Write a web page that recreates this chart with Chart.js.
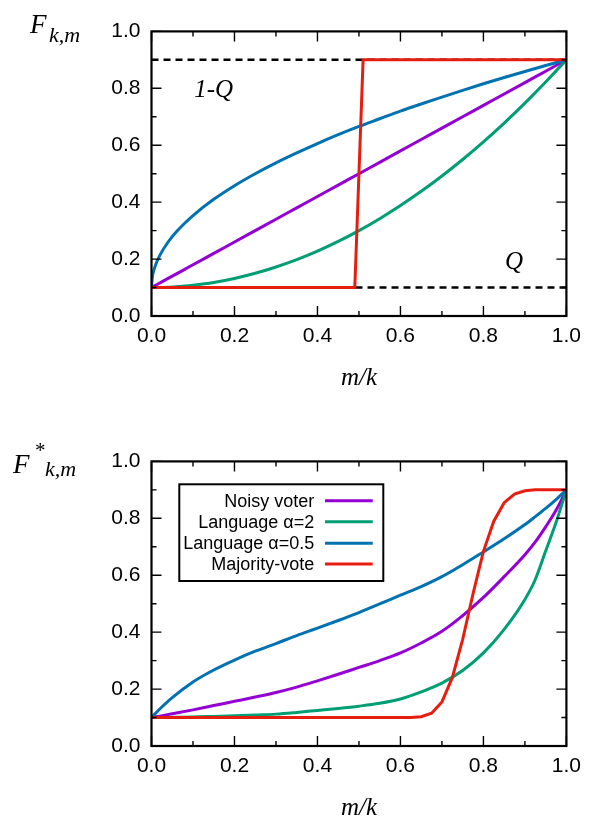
<!DOCTYPE html>
<html>
<head>
<meta charset="utf-8">
<script src="https://cdn.jsdelivr.net/npm/chart.js@4.4.0/dist/chart.umd.min.js"></script>
<style>
  body { margin: 0; background: #fff; }
  #wrap { position: relative; width: 589px; height: 819px; }
  canvas { position: absolute; left: 0; }
</style>
</head>
<body>
<div id="wrap">
  <canvas id="top" width="589" height="410" style="top:0"></canvas>
  <canvas id="bottom" width="589" height="389" style="top:430px"></canvas>
</div>
<script>
// ---- top panel: F_{k,m} ----
const topX      = [0, 0.002, 0.005, 0.01, 0.02, 0.04, 0.06, 0.08, 0.1, 0.15, 0.2, 0.25, 0.3, 0.35, 0.4, 0.45, 0.5, 0.55, 0.6, 0.65, 0.7, 0.75, 0.8, 0.85, 0.9, 0.95, 1];
const topNoisy  = [0.1, 0.102, 0.104, 0.108, 0.116, 0.132, 0.148, 0.164, 0.18, 0.22, 0.26, 0.3, 0.34, 0.38, 0.42, 0.46, 0.5, 0.54, 0.58, 0.62, 0.66, 0.7, 0.74, 0.78, 0.82, 0.86, 0.9];
const topLang2  = [0.1, 0.1, 0.1, 0.1, 0.1, 0.101, 0.103, 0.105, 0.108, 0.118, 0.132, 0.15, 0.172, 0.198, 0.228, 0.262, 0.3, 0.342, 0.388, 0.438, 0.492, 0.55, 0.612, 0.678, 0.748, 0.822, 0.9];
const topLang05 = [0.1, 0.136, 0.157, 0.18, 0.213, 0.26, 0.296, 0.326, 0.353, 0.41, 0.458, 0.5, 0.538, 0.573, 0.606, 0.637, 0.666, 0.693, 0.72, 0.745, 0.769, 0.793, 0.816, 0.838, 0.859, 0.88, 0.9];
const topMajX   = [0, 0.49, 0.51, 1];
const topMajY   = [0.1, 0.1, 0.9, 0.9];
const oneMinusQ = 0.9;
const Q = 0.1;

// ---- bottom panel: F*_{k,m} ----
const botX      = [0, 0.02, 0.05, 0.1, 0.15, 0.2, 0.25, 0.3, 0.35, 0.4, 0.45, 0.5, 0.55, 0.6, 0.65, 0.7, 0.75, 0.8, 0.85, 0.9, 0.925, 0.95, 0.975, 1];
const botNoisy  = [0.1, 0.105, 0.113, 0.127, 0.142, 0.157, 0.172, 0.188, 0.207, 0.229, 0.252, 0.276, 0.3, 0.327, 0.362, 0.403, 0.458, 0.522, 0.595, 0.672, 0.717, 0.77, 0.828, 0.9];
const botLang2  = [0.1, 0.1, 0.101, 0.102, 0.104, 0.106, 0.109, 0.112, 0.118, 0.125, 0.132, 0.14, 0.15, 0.165, 0.19, 0.221, 0.265, 0.327, 0.41, 0.515, 0.585, 0.685, 0.785, 0.9];
const botLang05 = [0.1, 0.13, 0.17, 0.225, 0.267, 0.302, 0.333, 0.36, 0.388, 0.414, 0.441, 0.469, 0.499, 0.53, 0.56, 0.595, 0.637, 0.682, 0.728, 0.778, 0.806, 0.835, 0.866, 0.9];
const botMajX   = [0, 0.6, 0.625, 0.65, 0.675, 0.7, 0.725, 0.75, 0.775, 0.8, 0.825, 0.85, 0.875, 0.9, 0.925, 1];
const botMajY   = [0.1, 0.1, 0.1, 0.103, 0.115, 0.155, 0.24, 0.375, 0.535, 0.684, 0.79, 0.855, 0.885, 0.897, 0.9, 0.9];

const seriesLabels = ['Noisy voter', 'Language \u03b1=2', 'Language \u03b1=0.5', 'Majority-vote'];
const seriesColors = ['#9400d3', '#009e73', '#0072b2', '#e51e10'];
const minorTicks = [0, 0.1, 0.2, 0.3, 0.4, 0.5, 0.6, 0.7, 0.8, 0.9, 1];

const AREA_TOP = 31.4, AREA_BOTTOM = 316;
const serif = '"Liberation Serif", "DejaVu Serif", serif';
const sans = '"Liberation Sans", Arial, sans-serif';

function pts(xs, ys) {
    return xs.map((x, i) => ({ x: x, y: ys[i] }));
}

function curves(xs, noisy, l2, l05, mx, my) {
    const ys = [noisy, l2, l05];
    const sets = ys.map((y, i) => ({
        label: seriesLabels[i], data: pts(xs, y),
        borderColor: seriesColors[i], order: 3 - i,
        cubicInterpolationMode: 'monotone'
    }));
    sets.push({ label: seriesLabels[3], data: pts(mx, my), borderColor: seriesColors[3], order: 0 });
    return sets;
}

// frame + inward ticks on all four sides
const framePlugin = {
    id: 'frame',
    afterDraw(chart) {
        const { ctx, chartArea: a, scales: { x, y } } = chart;
        ctx.save();
        ctx.strokeStyle = '#000';
        ctx.lineWidth = 1.4;
        minorTicks.forEach((v, i) => {
            const len = i % 2 === 0 ? 10 : 5;
            const px = x.getPixelForValue(v);
            const py = y.getPixelForValue(v);
            ctx.beginPath();
            ctx.moveTo(px, a.bottom); ctx.lineTo(px, a.bottom - len);
            ctx.moveTo(px, a.top); ctx.lineTo(px, a.top + len);
            ctx.moveTo(a.left, py); ctx.lineTo(a.left + len, py);
            ctx.moveTo(a.right, py); ctx.lineTo(a.right - len, py);
            ctx.stroke();
        });
        ctx.lineWidth = 2.2;
        ctx.strokeRect(a.left, a.top, a.right - a.left, a.bottom - a.top);

        // x title
        ctx.fillStyle = '#000';
        ctx.font = 'italic 25px ' + serif;
        ctx.textAlign = 'center';
        ctx.textBaseline = 'alphabetic';
        ctx.fillText('m/k', (a.left + a.right) / 2, 385);

        // y title
        const star = chart.options.plugins.frame.star;
        ctx.textAlign = 'left';
        ctx.font = 'italic 27px ' + serif;
        if (star) {
            ctx.fillText('F', 13, 43);
            ctx.font = '21px ' + serif;
            ctx.fillText('*', 35, 27);
            ctx.font = 'italic 22px ' + serif;
            ctx.fillText('k,m', 45, 46);
        } else {
            ctx.fillText('F', 30, 33);
            ctx.font = 'italic 22px ' + serif;
            ctx.fillText('k,m', 49, 42);
        }
        ctx.restore();
    }
};

// Q and 1-Q labels in the top panel
const qPlugin = {
    id: 'qlabels',
    afterDraw(chart) {
        const { ctx, scales: { x, y } } = chart;
        ctx.save();
        ctx.fillStyle = '#000';
        ctx.font = 'italic 25px ' + serif;
        ctx.textAlign = 'left';
        ctx.fillText('1-Q', x.getPixelForValue(0.103), y.getPixelForValue(0.768));
        ctx.fillText('Q', x.getPixelForValue(0.852), y.getPixelForValue(0.164));
        ctx.restore();
    }
};

// gnuplot-style legend box in the bottom panel
const legendPlugin = {
    id: 'boxlegend',
    afterDraw(chart) {
        const ctx = chart.ctx;
        ctx.save();
        ctx.lineWidth = 2;
        ctx.strokeStyle = '#000';
        ctx.strokeRect(179.3, 54.3, 204, 96.7);
        ctx.font = '18px ' + sans;
        ctx.textAlign = 'right';
        ctx.textBaseline = 'middle';
        ctx.fillStyle = '#000';
        const rows = [70.7, 91.7, 113.3, 134];
        seriesLabels.forEach((lab, i) => {
            ctx.fillText(lab, 314.3, rows[i] + 1);
            ctx.strokeStyle = seriesColors[i];
            ctx.lineWidth = 3;
            ctx.beginPath();
            ctx.moveTo(325, rows[i]);
            ctx.lineTo(372.7, rows[i]);
            ctx.stroke();
        });
        ctx.restore();
    }
};

function options(H, star) {
    const tickFont = { family: sans, size: 21 };
    return {
        responsive: false,
        animation: false,
        layout: { padding: { left: 0, right: 16.3, top: AREA_TOP, bottom: 0 } },
        plugins: { legend: { display: false }, tooltip: { enabled: false }, frame: { star: star } },
        elements: { point: { radius: 0 }, line: { borderWidth: 3, tension: 0 } },
        scales: {
            x: {
                type: 'linear', min: 0, max: 1,
                grid: { display: false, drawTicks: false }, border: { display: false },
                ticks: { stepSize: 0.2, padding: 8, color: '#000', font: tickFont, maxRotation: 0,
                         callback: v => v.toFixed(1) },
                afterFit(s) { s.height = H - AREA_BOTTOM; }
            },
            y: {
                type: 'linear', min: 0, max: 1,
                grid: { display: false, drawTicks: false }, border: { display: false },
                ticks: { stepSize: 0.2, padding: 11, color: '#000', font: tickFont,
                         callback: v => v.toFixed(1) },
                afterFit(s) { s.width = 151.5; }
            }
        }
    };
}

const topSets = curves(topX, topNoisy, topLang2, topLang05, topMajX, topMajY);
topSets.push({ label: '1-Q', data: pts([0, 1], [oneMinusQ, oneMinusQ]), borderColor: '#000', borderWidth: 2.5, borderDash: [7, 5], order: 5 });
topSets.push({ label: 'Q', data: pts([0, 1], [Q, Q]), borderColor: '#000', borderWidth: 2.5, borderDash: [7, 5], order: 5 });

new Chart(document.getElementById('top'), {
    type: 'line',
    data: { datasets: topSets },
    options: options(410, false),
    plugins: [framePlugin, qPlugin]
});

new Chart(document.getElementById('bottom'), {
    type: 'line',
    data: { datasets: curves(botX, botNoisy, botLang2, botLang05, botMajX, botMajY) },
    options: options(389, true),
    plugins: [framePlugin, legendPlugin]
});
</script>
</body>
</html>
